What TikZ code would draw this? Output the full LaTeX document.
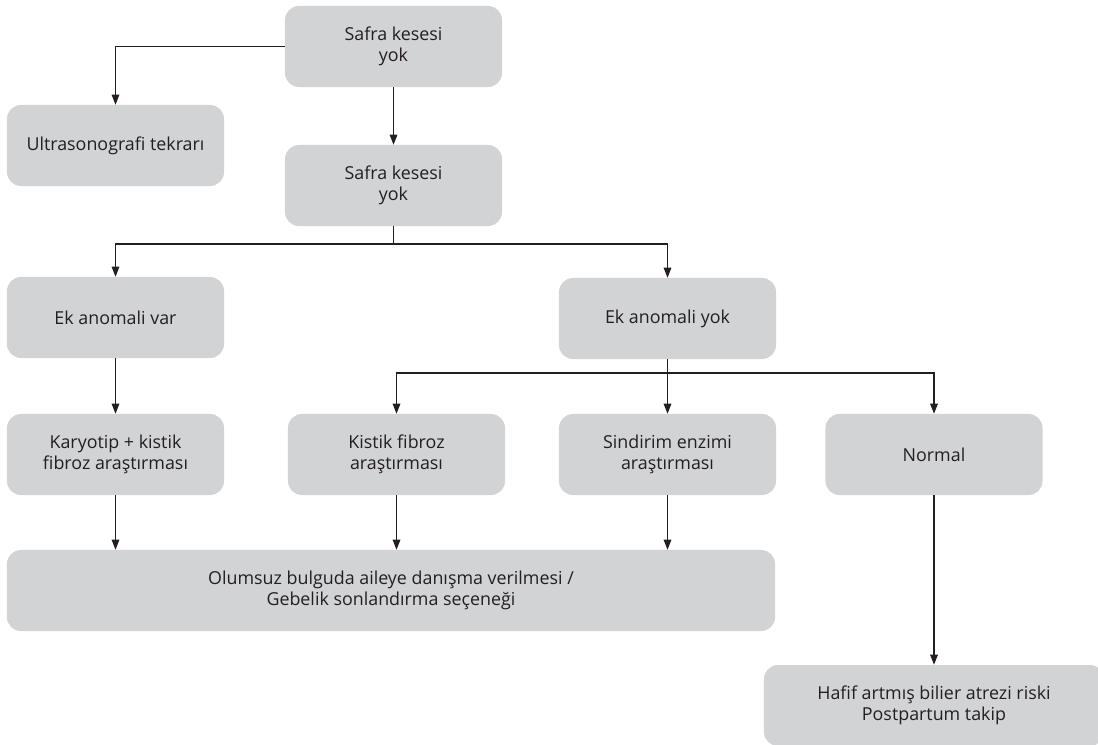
\documentclass[tikz,border=0pt]{standalone}
\usepackage{fontspec}
\setmainfont{Open Sans}
\usetikzlibrary{arrows.meta}
\definecolor{kutugri}{HTML}{D1D3D4}
\definecolor{cizgi}{HTML}{231F20}

\begin{document}
\begin{tikzpicture}[x=0.025cm, y=-0.025cm,
	kutu/.style={fill=kutugri, rounded corners=0.35cm, minimum width=5.425cm, minimum height=2.025cm, align=center, text=cizgi, inner sep=0pt, font=\fontsize{12.7}{14.6}\selectfont},
	ok/.style={-{Triangle[length=0.25cm, width=0.19cm]}, line width=0.8pt, cizgi}]
	\useasboundingbox (0,0) rectangle (1098,744);
		% kutular
		\node[kutu] (safra1) at (393.5, 46.5) {Safra kesesi\\yok};
		\node[kutu] (ultra) at (115.5, 145.5) {Ultrasonografi tekrarı};
		\node[kutu] (safra2) at (393.5, 185.5) {Safra kesesi\\yok};
		\node[kutu] (var) at (115.5, 317.5) {Ek anomali var};
		\node[kutu] (yok) at (667.5, 318.5) {Ek anomali yok};
		\node[kutu] (karyotip) at (115.5, 454.5) {Karyotip + kistik\\fibroz araştırması};
		\node[kutu] (kistik) at (396.5, 454.5) {Kistik fibroz\\araştırması};
		\node[kutu] (sindirim) at (667.5, 454.5) {Sindirim enzimi\\araştırması};
		\node[kutu] (normal) at (934, 454.5) {Normal};
		\node[kutu, minimum width=19.2cm] (olumsuz) at (391, 590.5) {Olumsuz bulguda aileye danışma verilmesi /\\Gebelik sonlandırma seçeneği};
		\node[kutu, minimum width=8.5cm] (hafif) at (934, 705.5) {Hafif artmış bilier atrezi riski\\Postpartum takip};
		% oklar
		\coordinate (dal1) at (393.5, 244);
		\coordinate (dal2) at (667.5, 373);
		\draw[ok] (safra1.west) -| (ultra.north);
		\draw[ok] (safra1) -- (safra2);
		\draw[line width=0.8pt, cizgi] (safra2.south) -- (dal1);
		\draw[ok] (dal1) -| (var.north);
		\draw[ok] (dal1) -| (yok.north);
		\draw[ok] (var) -- (karyotip);
		\draw[line width=0.8pt, cizgi] (yok.south) -- (dal2);
		\draw[ok] (dal2) -| (kistik.north);
		\draw[ok] (dal2) -- (sindirim.north);
		\draw[ok] (dal2) -| (normal.north);
		\draw[ok] (karyotip.south) -- (karyotip.south |- olumsuz.north);
		\draw[ok] (kistik.south) -- (kistik.south |- olumsuz.north);
		\draw[ok] (sindirim.south) -- (sindirim.south |- olumsuz.north);
		\draw[ok] (normal) -- (hafif);
\end{tikzpicture}
\end{document}
